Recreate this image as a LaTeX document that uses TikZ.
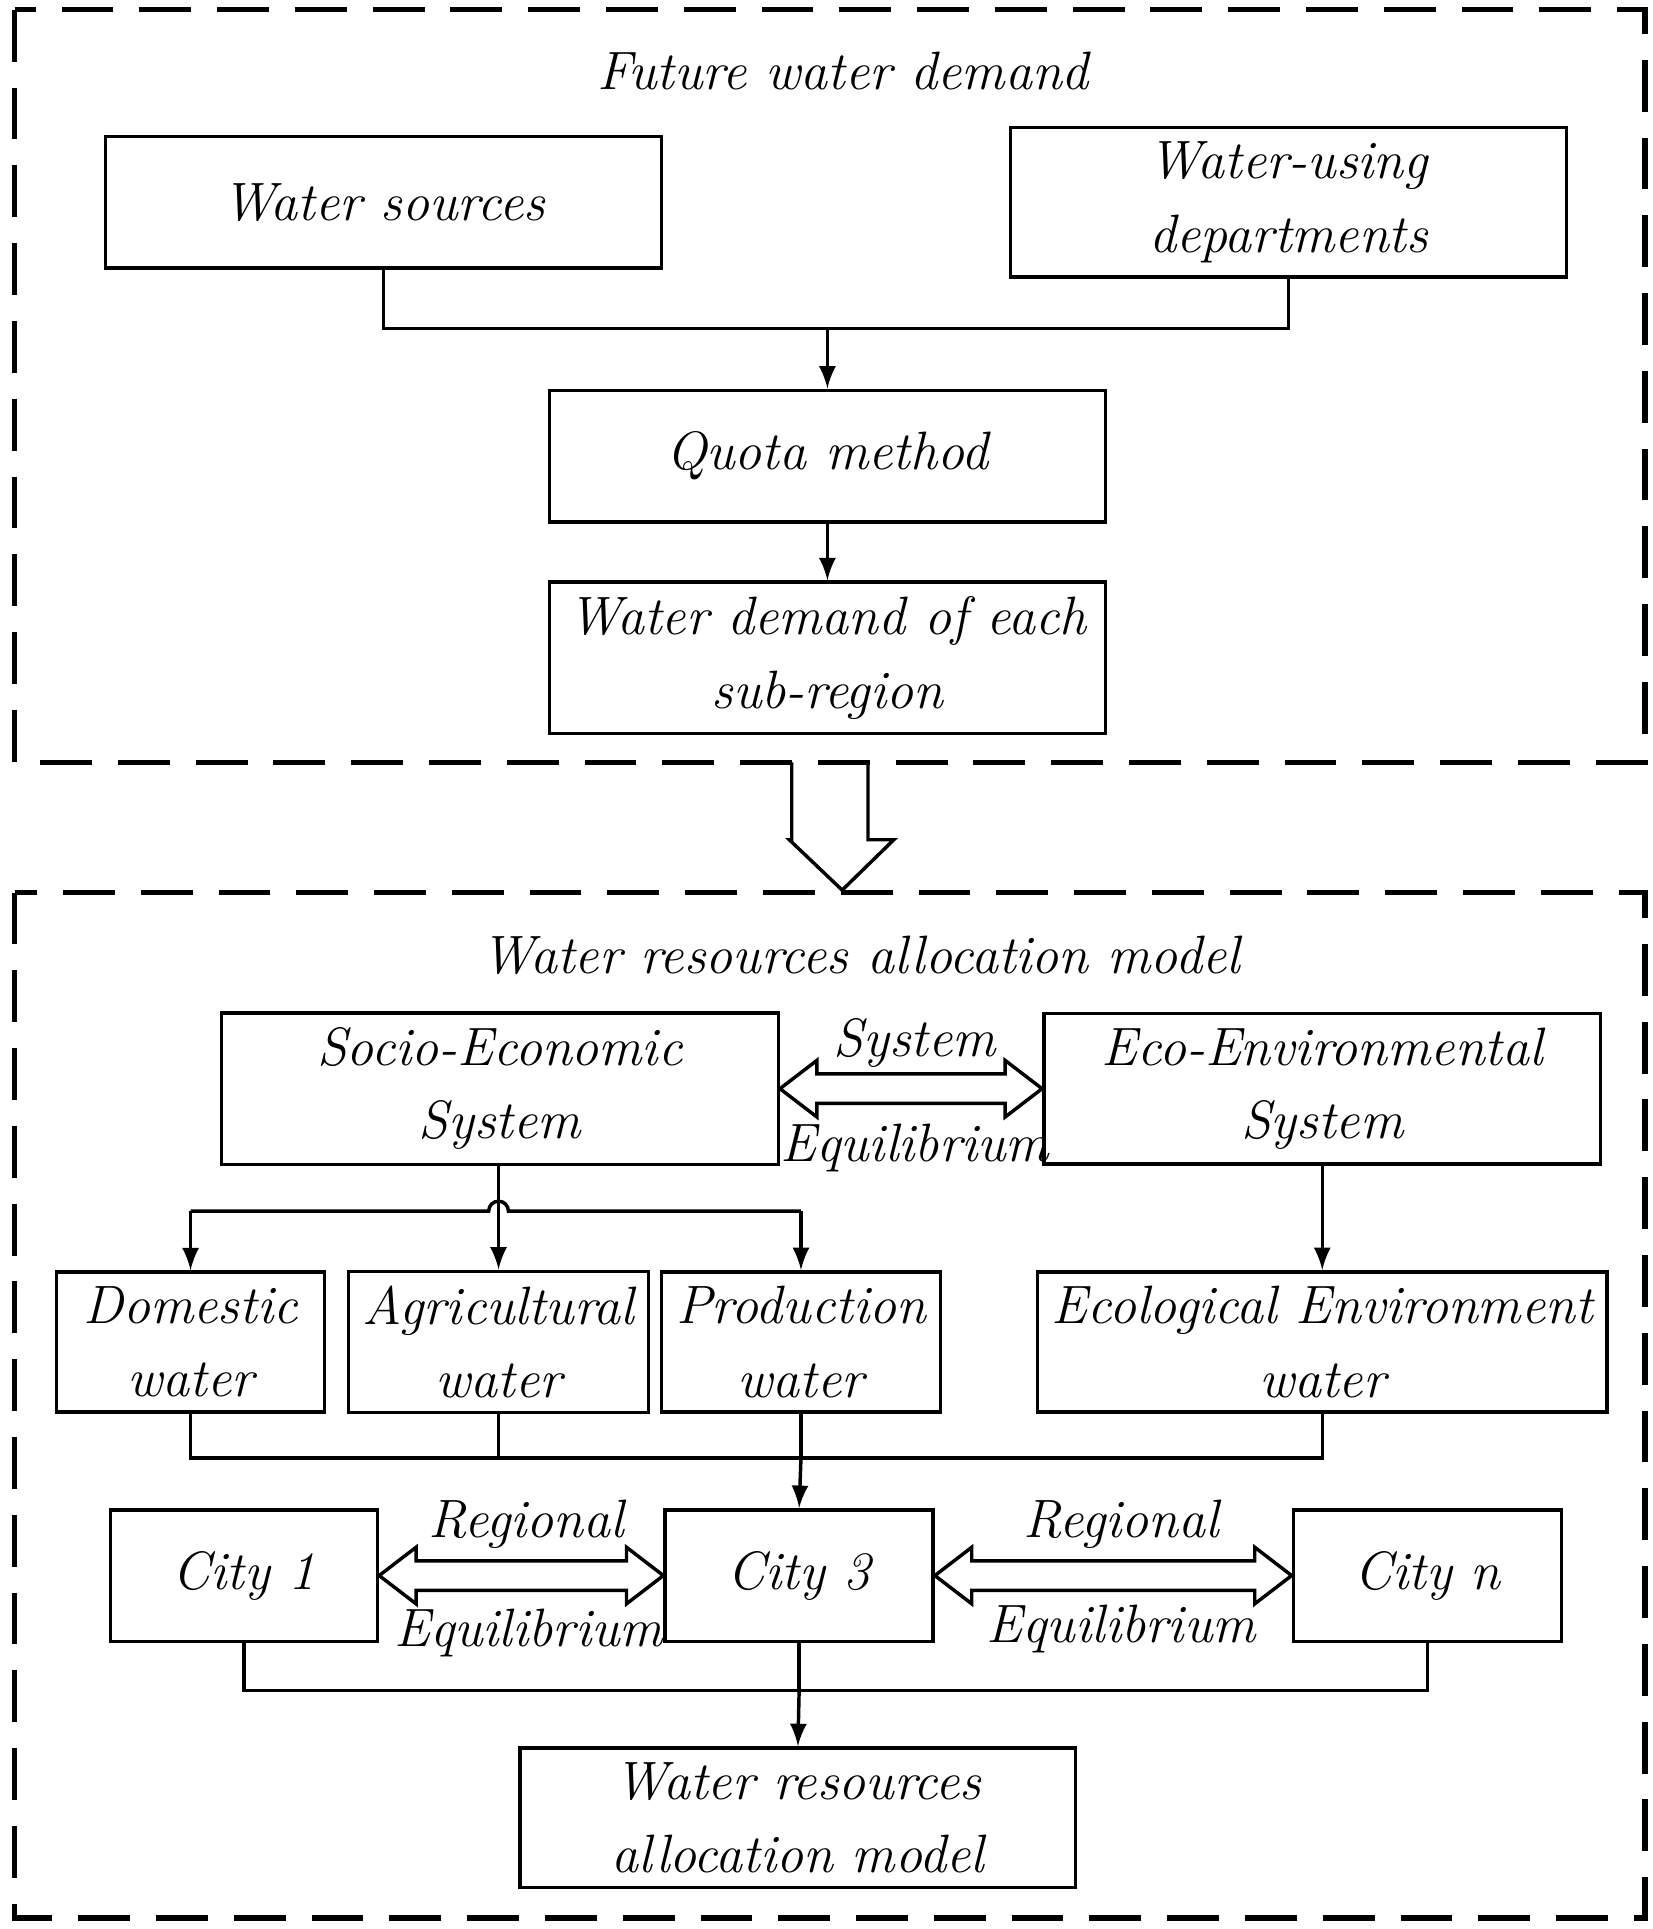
\documentclass[tikz,border=0pt]{standalone}
\usetikzlibrary{calc}
\tikzset{
  box/.style={draw, thick, minimum height=1.07cm, align=center, font=\fontsize{12.5}{17}\selectfont\itshape},
  frame/.style={draw, very thick, dash pattern=on 12pt off 6pt},
  lbl/.style={font=\fontsize{12.5}{15}\selectfont\itshape},
  flow/.style={thick, -latex},
  link/.style={thick}
}
\newcommand{\hollowpair}[2]{%
  \draw[thick] let \p1=(#1), \p2=(#2) in
    (\p1) -- (\x1+0.3cm,\y1+0.23cm) -- (\x1+0.3cm,\y1+0.12cm)
    -- (\x2-0.3cm,\y1+0.12cm) -- (\x2-0.3cm,\y1+0.23cm) -- (\x2,\y1)
    -- (\x2-0.3cm,\y1-0.23cm) -- (\x2-0.3cm,\y1-0.12cm)
    -- (\x1+0.3cm,\y1-0.12cm) -- (\x1+0.3cm,\y1-0.23cm) -- cycle;}
\begin{document}
\begin{tikzpicture}
\useasboundingbox (0,0) rectangle (13.44,-15.69);
% upper part
\draw[frame] (0.12,-0.08) rectangle (13.38,-6.20);
\node[lbl] (futtitle) at (6.86,-0.58) {Future water demand};
\node[box, minimum width=4.52cm] (sources) at (3.12,-1.645) {Water sources};
\node[box, minimum width=4.52cm] (users) at (10.48,-1.645) {Water-using\\departments};
\node[box, minimum width=4.52cm] (quota) at (6.73,-3.71) {Quota method};
\node[box, minimum width=4.52cm] (demand) at (6.73,-5.35) {Water demand of each\\sub-region};
\coordinate (joinA) at (6.73,-2.67);
\draw[link] (sources.south) |- (joinA) -| (users.south);
\draw[flow] (joinA) -- (quota.north);
\draw[flow] (quota.south) -- (demand.north);
% big arrow
\draw[thick] (6.44,-6.20) -- (6.44,-6.83) -- (6.42,-6.83) -- (6.85,-7.24)
  -- (7.27,-6.83) -- (7.06,-6.83) -- (7.06,-6.20);
% lower part
\draw[frame] (0.12,-7.26) rectangle (13.38,-15.60);
\node[lbl] (modtitle) at (7.00,-7.77) {Water resources allocation model};
\node[box, minimum width=4.53cm] (socio) at (4.065,-8.855) {Socio-Economic\\System};
\node[box, minimum width=4.53cm] (eco) at (10.755,-8.855) {Eco-Environmental\\System};
\hollowpair{socio.east}{eco.west}
\node[lbl] (sysA) at (7.44,-8.48) {System};
\node[lbl] (sysB) at (7.44,-9.34) {Equilibrium};
\node[box, minimum width=2.18cm] (dom) at (1.55,-10.915) {Domestic\\water};
\node[box, minimum width=2.19cm] (agr) at (4.055,-10.915) {Agricultural\\water};
\node[box, minimum width=2.17cm] (prod) at (6.515,-10.915) {Production\\water};
\node[box, minimum width=4.53cm] (ecol) at (10.755,-10.915) {Ecological Environment\\water};
\draw[link] (dom.north |- 0,-9.85) -- (3.975,-9.85) arc (180:0:0.08) -- (prod.north |- 0,-9.85);
\draw[flow] (dom.north |- 0,-9.85) -- (dom.north);
\draw[flow] (prod.north |- 0,-9.85) -- (prod.north);
\draw[flow] (socio.south -| agr.north) -- (agr.north);
\draw[flow] (eco.south) -- (ecol.north);
\node[box, minimum width=2.17cm] (city1) at (1.985,-12.815) {City 1};
\node[box, minimum width=2.18cm] (city3) at (6.50,-12.815) {City 3};
\node[box, minimum width=2.18cm] (cityn) at (11.61,-12.815) {City \textit{n}};
\coordinate (joinB) at (6.515,-11.86);
\draw[link] (dom.south) |- (joinB) -| (ecol.south);
\draw[link] (agr.south) -- (agr.south |- joinB);
\draw[link] (prod.south) -- (joinB);
\draw[flow] (joinB) -- (city3.north);
\hollowpair{city1.east}{city3.west}
\hollowpair{city3.east}{cityn.west}
\node[lbl] (regA) at (4.28,-12.40) {Regional};
\node[lbl] (regB) at (4.30,-13.28) {Equilibrium};
\node[lbl] (regC) at (9.12,-12.40) {Regional};
\node[lbl] (regD) at (9.12,-13.25) {Equilibrium};
\node[box, minimum width=4.52cm] (final) at (6.49,-14.785) {Water resources\\allocation model};
\coordinate (joinC) at (6.50,-13.75);
\draw[link] (city1.south) |- (joinC) -| (cityn.south);
\draw[link] (city3.south) -- (joinC);
\draw[flow] (joinC) -- (final.north);
\end{tikzpicture}
\end{document}
